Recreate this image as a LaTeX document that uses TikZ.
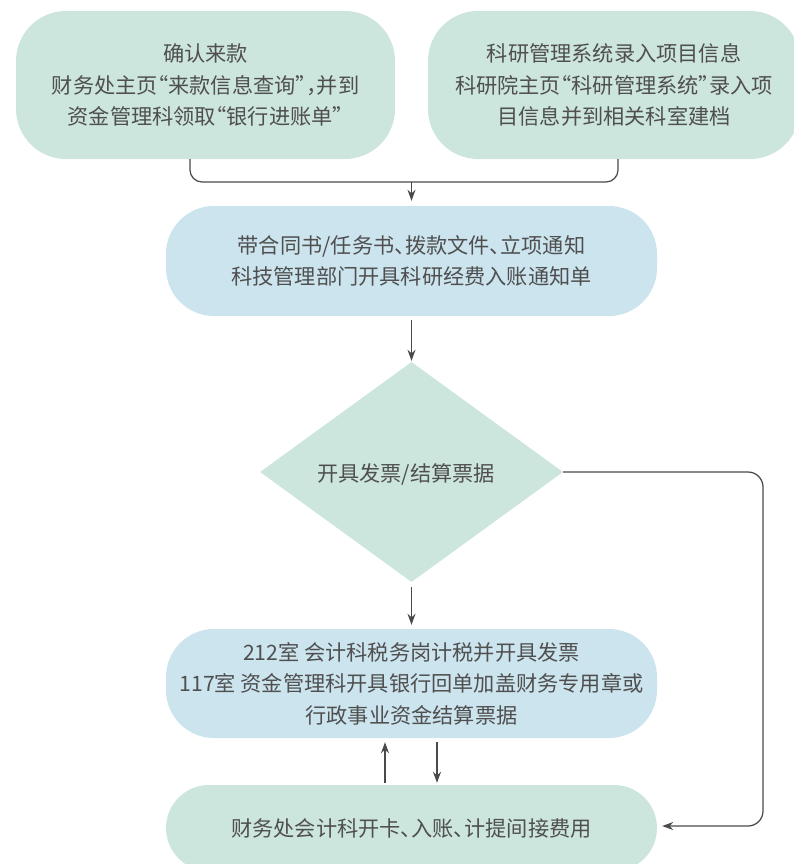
\documentclass[tikz,border=0pt]{standalone}
\usepackage{fontspec}
\setmainfont{Noto Sans CJK SC}
\newfontfamily\halfpunct{Noto Sans CJK SC}[RawFeature=+halt]
\newcommand\hp[1]{{\halfpunct #1}}
\usetikzlibrary{shapes.geometric,arrows.meta}
\definecolor{mint}{HTML}{CCE5DD}
\definecolor{sky}{HTML}{CCE4EE}
\definecolor{ink}{HTML}{4F4F4F}
\definecolor{wire}{HTML}{4A4A4A}
\tikzset{
  box/.style={draw=none, align=center, text=ink, inner sep=0pt,
    font=\fontsize{21.2pt}{31.5pt}\selectfont},
  greenbox/.style={box, fill=mint},
  bluebox/.style={box, fill=sky},
  conn/.style={draw=wire, line width=1.25pt},
  arr/.style={conn, -{Stealth[length=11pt,width=8pt,inset=3.5pt]}},
}
\begin{document}
\begin{tikzpicture}[x=1pt,y=-1pt]
\useasboundingbox (0,0) rectangle (794,864);
\clip (0,0) rectangle (794,864);
\node[greenbox, rounded corners=50pt, minimum width=379pt, minimum height=148pt] (b1) at (205.5,85)
  {确认来款\\财务处主页\hp{“}来款信息查询\hp{”，}并到\\资金管理科领取\hp{“}银行进账单\hp{”}};
\node[greenbox, rounded corners=50pt, minimum width=372pt, minimum height=148pt] (b2) at (614,85)
  {科研管理系统录入项目信息\\科研院主页\hp{“}科研管理系统\hp{”}录入项\\目信息并到相关科室建档};
\node[bluebox, rounded corners=48pt, minimum width=491pt, minimum height=110pt] (b3) at (411.5,261)
  {带合同书/任务书\hp{、}拨款文件\hp{、}立项通知\\科技管理部门开具科研经费入账通知单};
\node[box, fill=mint, diamond, minimum width=303pt, minimum height=220pt] (dia) at (411.5,472) {};
\node[box] (dt) at (406,474) {开具发票/结算票据};
\node[bluebox, rounded corners=48pt, minimum width=491pt, minimum height=109pt] (b4) at (411.5,683.5)
  {212室 会计科税务岗计税并开具发票\\117室 资金管理科开具银行回单加盖财务专用章或\\行政事业资金结算票据};
\node[greenbox, rounded corners=43pt, minimum width=491pt, minimum height=86pt] (b5) at (411.5,828)
  {财务处会计科开卡\hp{、}入账\hp{、}计提间接费用};
\coordinate (j1) at (190,182);
\coordinate (j2) at (618,182);
\coordinate (jm) at (411.5,182);
\coordinate (rc) at (763,826);
\draw[conn, rounded corners=12pt] (j1 |- b1.south) -- (j1) -- (j2) -- (j2 |- b2.south);
\draw[arr, shorten >=5pt] (jm) -- (b3.north);
\draw[arr, shorten <=4pt, shorten >=1pt] (b3.south) -- (dia.north);
\draw[arr, shorten <=5pt, shorten >=4pt] (dia.south) -- (b4.north);
\draw[arr, shorten <=2pt, shorten >=4pt] ([xshift=-26.5pt]b5.north) -- ([xshift=-26.5pt]b4.south);
\draw[arr, shorten <=4pt, shorten >=2pt] ([xshift=25.5pt]b4.south) -- ([xshift=25.5pt]b5.north);
\draw[arr, rounded corners=15pt, shorten >=5pt] (dia.east) -- (dia.east -| rc) -- (rc) -- (rc -| b5.east);
\end{tikzpicture}
\end{document}
